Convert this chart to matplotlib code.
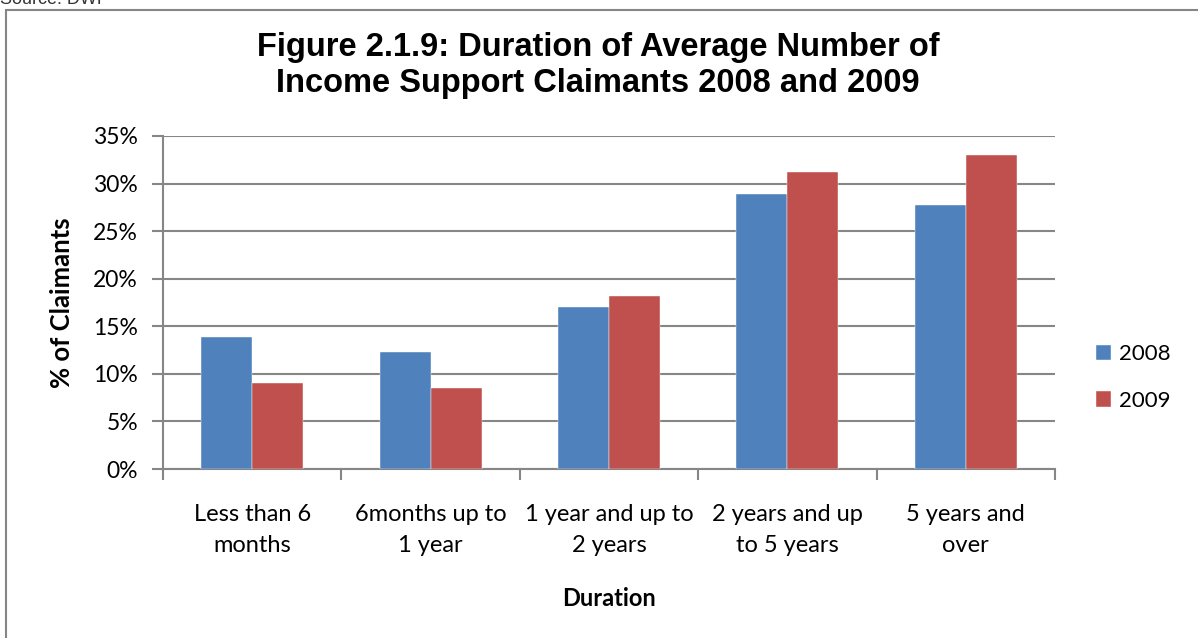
import matplotlib
matplotlib.use("Agg")
import matplotlib.pyplot as plt
from matplotlib.patches import Rectangle
from matplotlib.ticker import FuncFormatter, MultipleLocator
import numpy as np

categories = ["Less than 6\nmonths", "6months up to\n1 year", "1 year and up to\n2 years",
              "2 years and up\nto 5 years", "5 years and\nover"]
pct_2008 = [13.9, 12.3, 17.0, 28.9, 27.8]
pct_2009 = [9.0, 8.5, 18.2, 31.2, 33.0]
series_names = ["2008", "2009"]
series_colors = ["#4F81BD", "#C0504D"]

W, H = 1198, 638
fig = plt.figure(figsize=(W / 100, H / 100), dpi=100)
ax = fig.add_axes([163 / W, 1 - 469 / H, (1055 - 163) / W, (469 - 136) / H])

grid_col = "#868686"
body_font = "Lato"
x = np.arange(len(categories))
bw = 0.286
for vals, name, col, off in zip([pct_2008, pct_2009], series_names, series_colors, [-bw / 2, bw / 2]):
    ax.bar(x + off, vals, width=bw, color=col, label=name, zorder=3,
           edgecolor="white", linewidth=0.3)

ax.set_xlim(-0.5, len(categories) - 0.5)
ax.set_ylim(0, 35)
ax.yaxis.set_major_locator(MultipleLocator(5))
ax.yaxis.set_major_formatter(FuncFormatter(lambda v, p: f"{v:.0f}%"))
ax.grid(axis="y", color=grid_col, linewidth=1.5, zorder=0)
ax.set_axisbelow(True)

# category separators as tick marks between groups
ax.set_xticks(np.arange(-0.5, len(categories), 1.0))
ax.set_xticklabels([])
ax.set_xticks(x, minor=True)
ax.set_xticklabels(categories, minor=True, fontsize=17, family=body_font, linespacing=1.62)
ax.tick_params(axis="x", which="major", length=8, width=1.5, color=grid_col, direction="out")
ax.tick_params(axis="x", which="minor", length=0, pad=25)
ax.tick_params(axis="y", length=8, width=1.5, color=grid_col, labelsize=16.5, pad=10)
for lab in ax.get_yticklabels():
    lab.set_family(body_font)

for s in ["top", "right"]:
    ax.spines[s].set_visible(False)
for s in ["left", "bottom"]:
    ax.spines[s].set_color(grid_col)
    ax.spines[s].set_linewidth(1.5)

ax.set_ylabel("% of Claimants", fontsize=18.5, fontweight="bold", family=body_font, labelpad=14)
ax.set_xlabel("Duration", fontsize=17, fontweight="bold", family=body_font, labelpad=22)

fig.text(598 / W, 1 - 65.5 / H, "Figure 2.1.9: Duration of Average Number of\nIncome Support Claimants 2008 and 2009",
         ha="center", va="center", fontsize=23.5, fontweight="bold", family="Liberation Sans",
         linespacing=1.2)

handles, labels = ax.get_legend_handles_labels()
fig.legend(handles, labels, loc="center left", bbox_to_anchor=(1096 / W, 1 - 377.5 / H),
           frameon=False, prop={"family": body_font, "size": 16}, handlelength=0.68,
           handleheight=0.68, labelspacing=1.2, handletextpad=0.36, borderpad=0,
           borderaxespad=0)

# outer chart border and clipped source line
fig.add_artist(Rectangle((6 / W, -0.1), 1.2, 1 - 10 / H + 0.1, transform=fig.transFigure,
                         fill=False, edgecolor=grid_col, linewidth=1.5))
fig.text(0.0, 1 - 4 / H, "Source: DWP", ha="left", va="baseline", fontsize=13,
         family="Liberation Sans", color="#333333")

fig.savefig("out.png", dpi=100)
